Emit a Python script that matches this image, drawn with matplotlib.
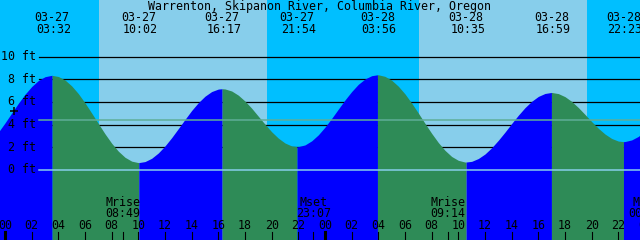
import matplotlib
matplotlib.use("Agg")
import matplotlib.pyplot as plt
import numpy as np
from matplotlib.transforms import blended_transform_factory

title = "Warrenton, Skipanon River, Columbia River, Oregon"

# water level every half hour from 03-26 23:00 (hour -1) to 03-29 00:00 (hour 48)
hours = np.arange(-1, 48.5, 0.5)
heights = [2.60, 3.33, 4.15, 5.02, 5.88, 6.68, 7.36, 7.89, 8.23, 8.35,
           8.25, 7.94, 7.42, 6.74, 5.92, 5.02, 4.10, 3.19, 2.36, 1.66,
           1.12, 0.78, 0.65, 0.74, 1.03, 1.50, 2.12, 2.85, 3.65, 4.46,
           5.25, 5.94, 6.51, 6.92, 7.14, 7.15, 6.97, 6.60, 6.08, 5.45,
           4.74, 4.04, 3.37, 2.81, 2.38, 2.12, 2.06, 2.21, 2.57, 3.10,
           3.78, 4.55, 5.37, 6.18, 6.92, 7.56, 8.03, 8.32, 8.40, 8.26,
           7.92, 7.39, 6.71, 5.90, 5.02, 4.11, 3.23, 2.42, 1.73, 1.19,
           0.85, 0.70, 0.76, 1.01, 1.41, 1.96, 2.62, 3.34, 4.10, 4.83,
           5.50, 6.06, 6.49, 6.75, 6.84, 6.74, 6.47, 6.05, 5.51, 4.90,
           4.27, 3.68, 3.17, 2.78, 2.55, 2.51, 2.65, 2.96, 3.45]

# high / low tides
tide_day = [0, 0, 0, 0, 1, 1, 1, 1]
tide_date = ["03-27", "03-27", "03-27", "03-27", "03-28", "03-28", "03-28", "03-28"]
tide_time = ["03:32", "10:02", "16:17", "21:54", "03:56", "10:35", "16:59", "22:23"]
tide_height = [8.35, 0.65, 7.17, 2.06, 8.40, 0.70, 6.84, 2.50]

sun_day = [0, 1]
sunrise = ["07:03", "07:03"]
sunset = ["19:39", "19:39"]

moon_day = [0, 0, 1, 2]
moon_name = ["Mrise", "Mset", "Mrise", "Mset"]
moon_time = ["08:49", "23:07", "09:14", "00:05"]

mean_level = 4.39
ft_marks = [0, 2, 4, 6, 8, 10]


def to_hours(day, hhmm):
    hh, mm = hhmm.split(":")
    return day * 24 + int(hh) + int(mm) / 60.0


NIGHT = "#00bfff"
DAY = "#87ceeb"
RISE = "#0000ff"
FALL = "#2e8b57"
font = dict(family="DejaVu Sans Mono", fontsize=8.4, color="black")

fig = plt.figure(figsize=(6.4, 2.4), dpi=100)
ax = fig.add_axes([0, 0, 1, 1])
ax.set_xlim(-0.375, 47.625)
ax.set_ylim(-6.18, 15.0)
ax.axis("off")
fig.patch.set_facecolor(NIGHT)
bt = blended_transform_factory(ax.transData, ax.transAxes)

for d, r, s in zip(sun_day, sunrise, sunset):
    ax.axvspan(to_hours(d, r), to_hours(d, s), color=DAY, lw=0, zorder=0)

for f in ft_marks[1:]:
    ax.axhline(f, xmin=39 / 640, xmax=1, color="black", lw=0.9, zorder=1)

# tide fill, blue while rising, green while falling
ev_t = [to_hours(d, t) for d, t in zip(tide_day, tide_time)]
t_all = np.concatenate([hours, ev_t])
h_all = np.concatenate([heights, tide_height])
order = np.argsort(t_all)
t_all, h_all = t_all[order], h_all[order]
bounds = [t_all[0]] + ev_t + [t_all[-1]]
for a, b in zip(bounds[:-1], bounds[1:]):
    m = (t_all >= a) & (t_all <= b)
    seg_t, seg_h = t_all[m], h_all[m]
    c = RISE if seg_h[-1] > seg_h[0] else FALL
    ax.fill_between(seg_t, seg_h, -10, color=c, lw=0, zorder=2)

ax.axhline(0, xmin=39 / 640, xmax=1, color="#87ceeb", lw=1.1, zorder=3)
ax.axhline(mean_level, xmin=39 / 640, xmax=1, color="#5fae98", lw=1.1, zorder=3)

for f in ft_marks:
    ax.text(-0.375 + 36 / 13.333, f, "%d ft" % f, ha="right", va="center", zorder=5, **font)

ax.plot(-0.375 + 14 / 13.333, 5.2, marker="+", color="black", ms=5.5, mew=1.1, zorder=5)

ax.text(0.5, 1 - 6.5 / 240, title, transform=ax.transAxes, ha="center", va="center", zorder=5, **font)
for t, dt, tm in zip(ev_t, tide_date, tide_time):
    ax.text(t, 1 - 17.5 / 240, dt, transform=bt, ha="center", va="center", zorder=5, **font)
    ax.text(t + 0.12, 1 - 29.5 / 240, tm, transform=bt, ha="center", va="center", zorder=5, **font)

# hour ticks along the bottom
for h in range(0, 49, 2):
    lw = 2.2 if h % 24 == 0 else 0.8
    ax.plot([h, h], [0, 8 / 240], transform=bt, color="black", lw=lw, zorder=5)
    ax.text(h, 1 - 225.5 / 240, "%02d" % (h % 24), transform=bt, ha="center", va="center", zorder=5, **font)

for d, n, tm in zip(moon_day, moon_name, moon_time):
    t = to_hours(d, tm)
    ax.plot([t, t], [0, 8 / 240], transform=bt, color="black", lw=0.8, zorder=5)
    ax.text(t, 1 - 202 / 240, n, transform=bt, ha="center", va="center", zorder=5, **font)
    ax.text(t, 1 - 213.5 / 240, tm, transform=bt, ha="center", va="center", zorder=5, **font)

fig.savefig("out.png", dpi=100, facecolor=fig.get_facecolor())
